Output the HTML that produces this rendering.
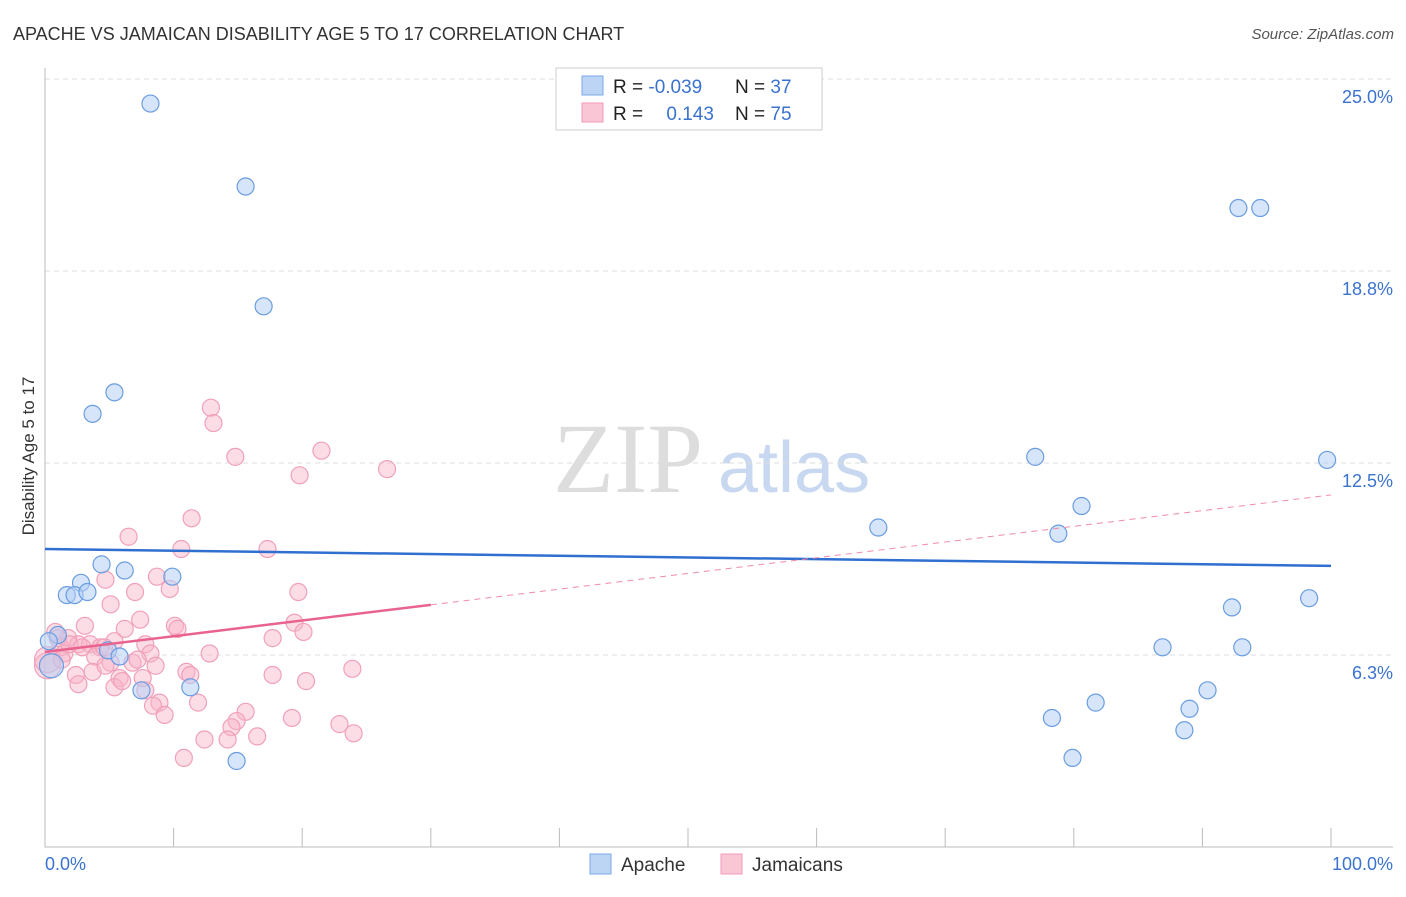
<!DOCTYPE html>
<html><head><meta charset="utf-8"><style>
body{margin:0;background:#fff;font-family:"Liberation Sans",sans-serif}
</style></head><body>
<svg id="c" width="1406" height="892" font-family="Liberation Sans, sans-serif">
<text x="13" y="40" font-size="18" fill="#333">APACHE VS JAMAICAN DISABILITY AGE 5 TO 17 CORRELATION CHART</text>
<text x="1394" y="39" font-size="15" fill="#555" font-style="italic" text-anchor="end">Source: ZipAtlas.com</text>
<text x="34" y="456" font-size="17" fill="#333" text-anchor="middle" transform="rotate(-90 34 456)">Disability Age 5 to 17</text>
<text x="553" y="492" font-size="100" fill="#ddd" style="font-family:'Liberation Serif',serif">ZIP</text>
<text x="718" y="492" font-size="72" fill="#c8d8f0">atlas</text>
<g id="grid"></g><g id="marks"></g>
<g>
<rect x="556" y="68" width="266" height="62" fill="#fff" stroke="#ccc"/>
<rect x="582" y="76" width="21" height="19" fill="#bcd5f5" stroke="#7aa8e8"/>
<rect x="582" y="103" width="21" height="19" fill="#f9c6d6" stroke="#f29ab8"/>
<text x="613" y="93" font-size="19" fill="#222">R = <tspan fill="#3a73cf">-0.039</tspan></text>
<text x="735" y="93" font-size="19" fill="#222">N = <tspan fill="#3a73cf">37</tspan></text>
<text x="613" y="120" font-size="19" fill="#222">R = <tspan fill="#3a73cf" dx="18">0.143</tspan></text>
<text x="735" y="120" font-size="19" fill="#222">N = <tspan fill="#3a73cf">75</tspan></text>
</g>
<g>
<rect x="590" y="854" width="21" height="20" fill="#bcd5f5" stroke="#7aa8e8"/>
<text x="621" y="871" font-size="19" fill="#333">Apache</text>
<rect x="721" y="854" width="21" height="20" fill="#f9c6d6" stroke="#f29ab8"/>
<text x="752" y="871" font-size="19" fill="#333">Jamaicans</text>
</g>
</svg>
<script>
const yTicks=[6.3,12.5,18.8,25.0];
const yTickVals=[6.25,12.5,18.75,25];
const apacheX=[8.2,15.6,17.0,5.4,3.7,4.4,6.2,2.8,1.7,2.3,3.3,9.9,1.0,4.9,5.8,7.5,11.3,14.9,0.5,0.3,64.8,77.0,80.6,78.8,92.8,94.5,99.7,92.3,98.3,86.9,93.1,90.4,89.0,81.7,78.3,88.6,79.9];
const apacheY=[24.2,21.5,17.6,14.8,14.1,9.2,9.0,8.6,8.2,8.2,8.3,8.8,6.9,6.4,6.2,5.1,5.2,2.8,5.9,6.7,10.4,12.7,11.1,10.2,20.8,20.8,12.6,7.8,8.1,6.5,6.5,5.1,4.5,4.7,4.2,3.8,2.9];
const jamX=[6.5,11.4,10.6,17.3,12.9,13.1,14.8,19.8,21.5,26.6,4.7,8.7,9.7,19.7,5.1,7.0,7.4,6.2,3.1,10.1,10.3,19.4,20.1,17.7,0.8,1.8,2.6,3.5,4.3,5.4,7.8,8.2,1.2,1.5,3.9,5.1,6.8,8.6,12.8,3.7,2.4,5.8,11.0,11.3,17.7,23.9,20.3,2.6,5.4,6.0,7.8,8.9,8.4,9.3,11.9,15.6,14.9,14.5,19.2,22.9,24.0,16.5,14.2,12.4,10.8,0.2,0.2,1.0,1.9,2.9,4.6,1.3,7.2,4.7,7.6];
const jamY=[10.1,10.7,9.7,9.7,14.3,13.8,12.7,12.1,12.9,12.3,8.7,8.8,8.4,8.3,7.9,8.3,7.4,7.1,7.2,7.2,7.1,7.3,7.0,6.8,7.0,6.8,6.6,6.6,6.5,6.7,6.6,6.3,6.5,6.3,6.2,6.0,6.0,5.9,6.3,5.7,5.6,5.5,5.7,5.6,5.6,5.8,5.4,5.3,5.2,5.4,5.1,4.7,4.6,4.3,4.7,4.4,4.1,3.9,4.2,4.0,3.7,3.6,3.5,3.5,2.9,5.9,6.1,6.8,6.6,6.5,6.5,6.1,6.1,5.9,5.5];
const apacheTrend=[9.7,9.15];
const jamTrend=[6.35,11.46];
const xs=v=>45+v*12.86, ys=v=>847-v*30.72;
const NS='http://www.w3.org/2000/svg';
const grid=document.getElementById('grid'), marks=document.getElementById('marks');
function mk(tag,attrs,parent){const e=document.createElementNS(NS,tag);for(const k in attrs)e.setAttribute(k,attrs[k]);parent.appendChild(e);return e;}
yTickVals.forEach((v,i)=>{
 const l=mk('line',{x1:45,x2:1393,y1:ys(v),y2:ys(v),stroke:'#ddd','stroke-dasharray':'5 4'},grid);
 
 
 const t=mk('text',{x:1393,y:ys(v)+24,'font-size':18,fill:'#3a73cf','text-anchor':'end'},grid);
 t.textContent=yTicks[i].toFixed(1)+'%';
 
 
});
const ax=mk('path',{d:'M45 68V847H1393',stroke:'#bbb',fill:'none'},grid);


for(let i=1;i<=10;i++){
 const tk=mk('line',{x1:xs(i*10),x2:xs(i*10),y1:828,y2:847,stroke:'#bbb'},grid);
 
 
}
[['0.0%',45,'start'],['100.0%',1393,'end']].forEach(a=>{
 const t=mk('text',{x:a[1],y:870,'font-size':18,fill:'#3a73cf','text-anchor':a[2]},grid);
 t.textContent=a[0];
 
 
});
jamX.forEach((x,i)=>{
 const c=mk('circle',{cx:xs(x),cy:ys(jamY[i]),r:(x<0.3?13:8.5),fill:'rgba(248,180,200,0.45)',stroke:'#f0a0bb','stroke-width':1.2},marks);
 
 
});
apacheX.forEach((x,i)=>{
 const c=mk('circle',{cx:xs(x),cy:ys(apacheY[i]),r:(x===0.5?12:8.5),fill:'rgba(180,208,245,0.55)',stroke:'#6b9de0','stroke-width':1.2},marks);
 
 
});
const jt=x=>jamTrend[0]+(jamTrend[1]-jamTrend[0])*x/100;
const bl=mk('line',{x1:xs(0),x2:xs(100),y1:ys(apacheTrend[0]),y2:ys(apacheTrend[1]),stroke:'#2f6fd0','stroke-width':2.5},marks);


const pd=mk('line',{x1:xs(30),x2:xs(100),y1:ys(jt(30)),y2:ys(jt(100)),stroke:'#f08aab','stroke-width':1,'stroke-dasharray':'6 5'},marks);


const ps=mk('line',{x1:xs(0),x2:xs(30),y1:ys(jt(0)),y2:ys(jt(30)),stroke:'#e8648f','stroke-width':2.5},marks);


</script>
</body></html>
